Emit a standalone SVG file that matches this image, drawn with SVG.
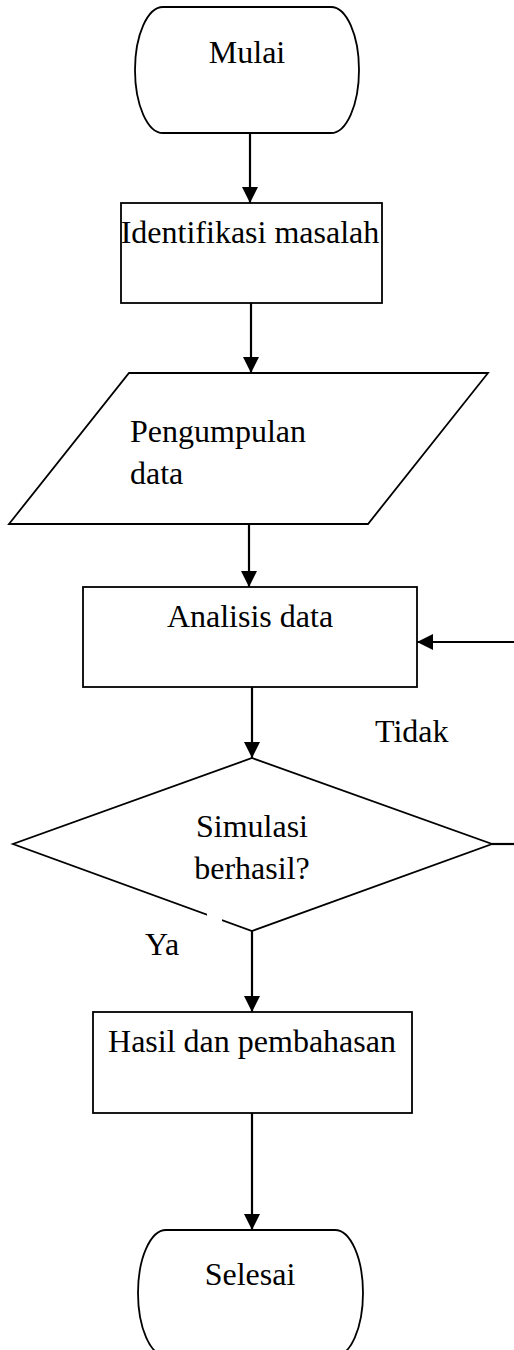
<svg xmlns="http://www.w3.org/2000/svg" width="514" height="1350" viewBox="0 0 514 1350">
<defs>
<style>
.shape{fill:#fff;stroke:#000;stroke-width:1.8}
.conn{fill:none;stroke:#000;stroke-width:2.2}
text{font-family:"Liberation Serif","Times New Roman",serif;font-size:32px;fill:#000}
.c{text-anchor:middle}
</style>
<marker id="arr" markerUnits="userSpaceOnUse" markerWidth="17" markerHeight="17" viewBox="0 0 17 17" refX="16" refY="8.5" orient="auto">
<path d="M0,0.5 L16,8.5 L0,16.5 Z" fill="#000"/>
</marker>
</defs>
<rect width="514" height="1350" fill="#fff"/>
<g id="connectors">
<line class="conn" x1="250" y1="133" x2="250" y2="203" marker-end="url(#arr)"/>
<line class="conn" x1="251" y1="303" x2="251" y2="373" marker-end="url(#arr)"/>
<line class="conn" x1="249" y1="524" x2="249" y2="587" marker-end="url(#arr)"/>
<line class="conn" x1="514" y1="642" x2="417" y2="642" marker-end="url(#arr)"/>
<line class="conn" x1="252" y1="687" x2="252" y2="758" marker-end="url(#arr)"/>
<line class="conn" x1="492" y1="844" x2="514" y2="844"/>
<line class="conn" x1="252" y1="931" x2="252" y2="1012" marker-end="url(#arr)"/>
<line class="conn" x1="252" y1="1113" x2="252" y2="1230" marker-end="url(#arr)"/>
</g>
<g id="mulai">
<rect class="shape" x="135" y="7" width="224" height="126" rx="28" ry="63"/>
<text class="c" x="247" y="63">Mulai</text>
</g>
<g id="identifikasi">
<rect class="shape" x="121" y="203" width="261" height="100"/>
<text class="c" x="250" y="243">Identifikasi masalah</text>
</g>
<g id="pengumpulan">
<polygon class="shape" points="129,373 488,373 368,524 9,524"/>
<text x="130" y="442">Pengumpulan</text>
<text x="130" y="484">data</text>
</g>
<g id="analisis">
<rect class="shape" x="83" y="587" width="334" height="100"/>
<text class="c" x="250" y="627">Analisis data</text>
</g>
<g id="simulasi">
<polygon class="shape" points="252,758 492,844 252,931 13,844"/>
<rect x="207" y="911" width="15" height="10" fill="#fff"/>
<text class="c" x="252" y="837">Simulasi</text>
<text class="c" x="252" y="879">berhasil?</text>
</g>
<g id="labels">
<text x="375" y="742">Tidak</text>
<text x="145" y="955">Ya</text>
</g>
<g id="hasil">
<rect class="shape" x="93" y="1012" width="319" height="101"/>
<text class="c" x="252" y="1052">Hasil dan pembahasan</text>
</g>
<g id="selesai">
<rect class="shape" x="138" y="1230" width="225" height="126" rx="28" ry="63"/>
<text class="c" x="250" y="1285">Selesai</text>
</g>
</svg>
